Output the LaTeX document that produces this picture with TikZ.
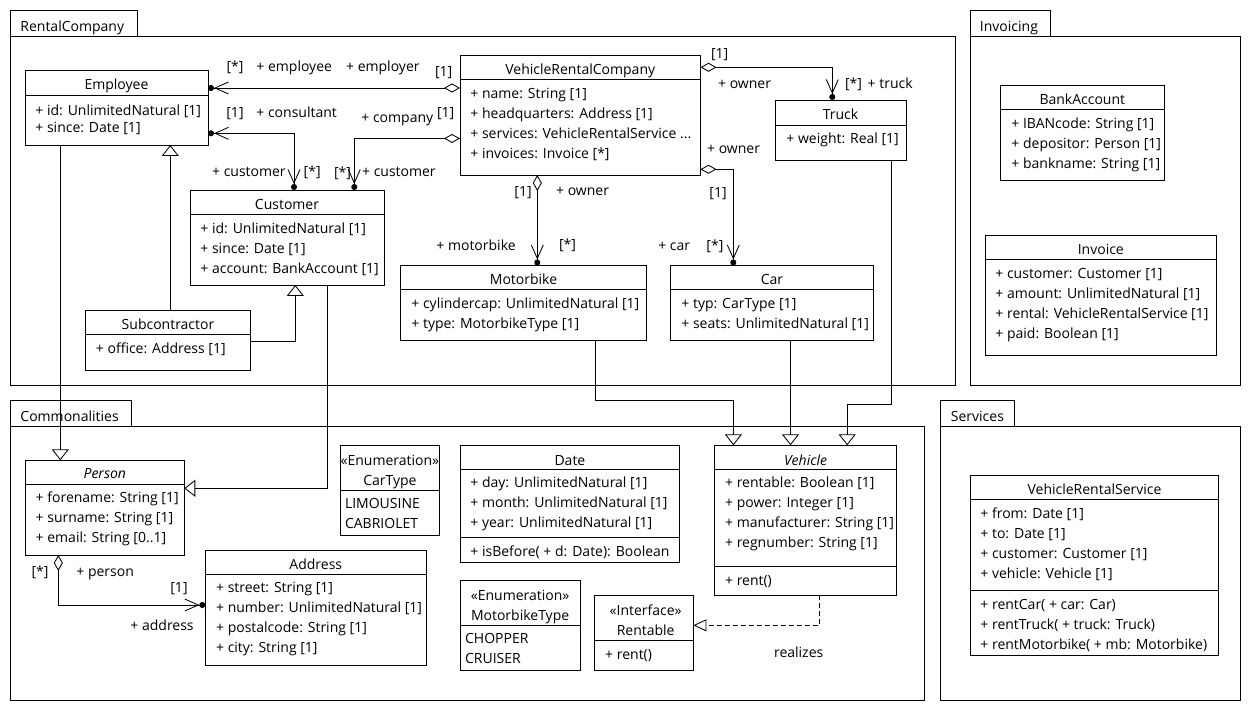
\documentclass[tikz,border=0pt]{standalone}
\usepackage{fontspec}
\setmainfont{Open Sans}
\usetikzlibrary{arrows.meta}
\tikzset{
  clsbox/.style={draw, fill=white, anchor=north west, inner sep=0pt, outer sep=0pt},
  txt/.style={anchor=west, inner sep=0pt, text height=10pt, text depth=0pt},
  ctr/.style={anchor=center, inner sep=0pt, text height=10pt, text depth=0pt},
  assoc/.style={arrows={Diamond[fill=white,length=16pt,width=9pt]-{Straight Barb[length=13.5pt,width=12pt]Circle[length=6pt]}}},
  navnav/.style={arrows={{Circle[length=6pt]Straight Barb[length=13.5pt,width=12pt]}-{Straight Barb[length=13.5pt,width=12pt]Circle[length=6pt]}}},
  gen/.style={arrows={-Triangle[open,length=11pt,width=17pt]}},
  realz/.style={dash pattern=on 5pt off 3pt, arrows={-Triangle[open,length=13pt,width=12pt]}},
}
\newcommand\umlcls[5]{\node[clsbox, minimum width=#4pt, minimum height=#5pt] (#1) at (#2,#3) {};}
\newcommand\umlsep[2]{\draw (#1.west |- 0,#2) -- (#1.east |- 0,#2);}
\begin{document}
\begin{tikzpicture}[x=1pt,y=-1pt,line width=0.85pt,font=\fontsize{14}{16}\selectfont]
\useasboundingbox (0,0) rectangle (1251,711);
% ---------- packages
\draw (10,36) rectangle (955,385);
\draw (10,36) |- (137,10) -- (137,36);
\node[txt] (pk1) at (20,26.5) {RentalCompany};
\draw (970,36) rectangle (1240,385);
\draw (970,36) |- (1050,10) -- (1050,36);
\node[txt] (pk2) at (979.5,26.5) {Invoicing};
\draw (10,426) rectangle (924.5,700);
\draw (10,426) |- (131.5,400) -- (131.5,426);
\node[txt] (pk3) at (20,416) {Commonalities};
\draw (940,426) rectangle (1240,700);
\draw (940,426) |- (1014.5,400) -- (1014.5,426);
\node[txt] (pk4) at (950.5,416) {Services};
% ---------- Employee
\umlcls{emp}{25}{70}{183}{75}\umlsep{emp}{95.5}
\node[ctr] (emp-n) at ([yshift=-15pt]emp.north) {Employee};
\node[txt] (emp-a1) at (35,110.5) {+ id: UnlimitedNatural [1]};
\node[txt] (emp-a2) at (35,127.5) {+ since: Date [1]};
% ---------- Customer
\umlcls{cust}{190}{190}{194}{95}\umlsep{cust}{214}
\node[ctr] (cust-n) at ([yshift=-14.5pt]cust.north) {Customer};
\node[txt] (cust-a1) at (200,229) {+ id: UnlimitedNatural [1]};
\node[txt] (cust-a2) at (200,248.5) {+ since: Date [1]};
\node[txt] (cust-a3) at (200,268.5) {+ account: BankAccount [1]};
% ---------- Subcontractor
\umlcls{sub}{85.5}{310}{165}{60}\umlsep{sub}{334.5}
\node[ctr] (sub-n) at ([yshift=-14.7pt]sub.north) {Subcontractor};
\node[txt] (sub-a1) at (95.5,348.7) {+ office: Address [1]};
% ---------- VehicleRentalCompany
\umlcls{vrc}{460}{55}{240.5}{120}\umlsep{vrc}{79}
\node[ctr] (vrc-n) at ([yshift=-15pt]vrc.north) {VehicleRentalCompany};
\node[txt] (vrc-a1) at (470,93.3) {+ name: String [1]};
\node[txt] (vrc-a2) at (470,113.3) {+ headquarters: Address [1]};
\node[txt] (vrc-a3) at (470,133.3) {+ services: VehicleRentalService ...};
\node[txt] (vrc-a4) at (470,153.3) {+ invoices: Invoice [*]};
% ---------- Truck
\umlcls{truck}{775}{100}{131}{60}\umlsep{truck}{125.3}
\node[ctr] (truck-n) at ([yshift=-14.7pt]truck.north) {Truck};
\node[txt] (truck-a1) at (786,139) {+ weight: Real [1]};
% ---------- Motorbike
\umlcls{moto}{400.5}{265.5}{246}{75}\umlsep{moto}{289}
\node[ctr] (moto-n) at ([yshift=-13.8pt]moto.north) {Motorbike};
\node[txt] (moto-a1) at (411,303.3) {+ cylindercap: UnlimitedNatural [1]};
\node[txt] (moto-a2) at (411,323.3) {+ type: MotorbikeType [1]};
% ---------- Car
\umlcls{car}{670.5}{265.5}{203}{75}\umlsep{car}{289}
\node[ctr] (car-n) at ([yshift=-13.8pt]car.north) {Car};
\node[txt] (car-a1) at (681,303.3) {+ typ: CarType [1]};
\node[txt] (car-a2) at (681,323.3) {+ seats: UnlimitedNatural [1]};
% ---------- BankAccount
\umlcls{bank}{1000.3}{85.3}{164}{95}\umlsep{bank}{109}
\node[ctr] (bank-n) at ([yshift=-14.4pt]bank.north) {BankAccount};
\node[txt] (bank-a1) at (1011,123.7) {+ IBANcode: String [1]};
\node[txt] (bank-a2) at (1011,143.7) {+ depositor: Person [1]};
\node[txt] (bank-a3) at (1011,163.7) {+ bankname: String [1]};
% ---------- Invoice
\umlcls{inv}{985.3}{235.3}{231}{119.7}\umlsep{inv}{259}
\node[ctr] (inv-n) at ([yshift=-14pt]inv.north) {Invoice};
\node[txt] (inv-a1) at (995,274) {+ customer: Customer [1]};
\node[txt] (inv-a2) at (995,294) {+ amount: UnlimitedNatural [1]};
\node[txt] (inv-a3) at (995,314) {+ rental: VehicleRentalService [1]};
\node[txt] (inv-a4) at (995,334) {+ paid: Boolean [1]};
% ---------- VehicleRentalService
\umlcls{vrs}{970.3}{475.3}{248.4}{180}\umlsep{vrs}{499}\umlsep{vrs}{590.3}
\node[ctr] (vrs-n) at ([yshift=-14.4pt]vrs.north) {VehicleRentalService};
\node[txt] (vrs-a1) at (980,513.7) {+ from: Date [1]};
\node[txt] (vrs-a2) at (980,533.7) {+ to: Date [1]};
\node[txt] (vrs-a3) at (980,553.7) {+ customer: Customer [1]};
\node[txt] (vrs-a4) at (980,573.7) {+ vehicle: Vehicle [1]};
\node[txt] (vrs-o1) at (980,604.3) {+ rentCar( + car: Car)};
\node[txt] (vrs-o2) at (980,624.3) {+ rentTruck( + truck: Truck)};
\node[txt] (vrs-o3) at (980,644.3) {+ rentMotorbike( + mb: Motorbike)};
% ---------- Person
\umlcls{person}{25.3}{460.3}{159}{94.7}\umlsep{person}{484.3}
\node[ctr] (person-n) at ([yshift=-13.4pt]person.north) {\itshape Person};
\node[txt] (person-a1) at (35.3,497.7) {+ forename: String [1]};
\node[txt] (person-a2) at (35.3,517.7) {+ surname: String [1]};
\node[txt] (person-a3) at (35.3,537.7) {+ email: String [0..1]};
% ---------- Address
\umlcls{addr}{205.3}{550.3}{221}{115}\umlsep{addr}{574}
\node[ctr] (addr-n) at ([yshift=-14.4pt]addr.north) {Address};
\node[txt] (addr-a1) at (215.7,587.7) {+ street: String [1]};
\node[txt] (addr-a2) at (215.7,607.7) {+ number: UnlimitedNatural [1]};
\node[txt] (addr-a3) at (215.7,627.7) {+ postalcode: String [1]};
\node[txt] (addr-a4) at (215.7,647.7) {+ city: String [1]};
% ---------- CarType
\umlcls{ctype}{340.3}{445.3}{99.2}{90}\umlsep{ctype}{490}
\node[ctr] (ctype-s) at ([yshift=-14.7pt]ctype.north) {«Enumeration»};
\node[ctr] (ctype-n) at ([yshift=-35.4pt]ctype.north) {CarType};
\node[txt] (ctype-l1) at (344.6,503.7) {LIMOUSINE};
\node[txt] (ctype-l2) at (344.6,523.7) {CABRIOLET};
% ---------- Date
\umlcls{date}{460.2}{445.3}{219.4}{117}\umlsep{date}{469.3}\umlsep{date}{537}
\node[ctr] (date-n) at ([yshift=-14.7pt]date.north) {Date};
\node[txt] (date-a1) at (470,482.7) {+ day: UnlimitedNatural [1]};
\node[txt] (date-a2) at (470,502.7) {+ month: UnlimitedNatural [1]};
\node[txt] (date-a3) at (470,522.7) {+ year: UnlimitedNatural [1]};
\node[txt] (date-o1) at (470,551) {+ isBefore( + d: Date): Boolean};
% ---------- Vehicle
\umlcls{veh}{714.4}{445.3}{182.4}{149.7}\umlsep{veh}{469.3}\umlsep{veh}{566.7}
\node[ctr] (veh-n) at ([yshift=-14.7pt]veh.north) {\itshape Vehicle};
\node[txt] (veh-a1) at (724.7,482.7) {+ rentable: Boolean [1]};
\node[txt] (veh-a2) at (724.7,502.7) {+ power: Integer [1]};
\node[txt] (veh-a3) at (724.7,522.7) {+ manufacturer: String [1]};
\node[txt] (veh-a4) at (724.7,542.7) {+ regnumber: String [1]};
\node[txt] (veh-o1) at (724.7,580) {+ rent()};
% ---------- MotorbikeType
\umlcls{mtype}{460.2}{580.3}{119.8}{90}\umlsep{mtype}{625.3}
\node[ctr] (mtype-s) at ([yshift=-14.7pt]mtype.north) {«Enumeration»};
\node[ctr] (mtype-n) at ([yshift=-35.4pt]mtype.north) {MotorbikeType};
\node[txt] (mtype-l1) at (464.7,638.7) {CHOPPER};
\node[txt] (mtype-l2) at (464.7,658.7) {CRUISER};
% ---------- Rentable
\umlcls{rent}{594.9}{595.3}{98.5}{75}\umlsep{rent}{640.3}
\node[ctr] (rent-s) at ([xshift=1.5pt,yshift=-14.7pt]rent.north) {«Interface»};
\node[ctr] (rent-n) at ([xshift=1.5pt,yshift=-35.4pt]rent.north) {Rentable};
\node[txt] (rent-o1) at (604.8,654.3) {+ rent()};
% ---------- associations
\draw[assoc] (vrc.west |- 0,88) -- (emp.east |- 0,88);
\node[ctr] (l1) at (235,67) {[*]};
\node[txt] (l2) at (256,67) {+ employee};
\node[txt] (l3) at (345.7,67) {+ employer};
\node[ctr] (l4) at (443.7,71.3) {[1]};

\draw[navnav] (emp.east |- 0,133.3) -| (cust.north -| 294,0);
\node[ctr] (l5) at (235,112.7) {[1]};
\node[txt] (l6) at (256,112.7) {+ consultant};
\node[txt] (l7) at (211.7,172) {+ customer};
\node[txt] (l8) at (303.3,172) {[*]};

\draw[assoc] (vrc.west |- 0,138.5) -| (cust.north -| 354.3,0);
\node[txt] (l9) at (361,117.3) {+ company};
\node[txt] (l10) at (436.7,112.7) {[1]};
\node[txt] (l11) at (333.7,172.3) {[*]};
\node[txt] (l12) at (361.7,172) {+ customer};

\draw[assoc] (vrc.east |- 0,67.3) -| (truck.north -| 832.3,0);
\node[txt] (l13) at (710.7,53.3) {[1]};
\node[txt] (l14) at (717.7,83.3) {+ owner};
\node[txt] (l15) at (844.7,83.3) {[*]};
\node[txt] (l16) at (867.3,83.3) {+ truck};

\draw[assoc] (vrc.east |- 0,169.3) -| (car.north -| 733.3,0);
\node[txt] (l17) at (706.7,148.3) {+ owner};
\node[txt] (l18) at (709,192.7) {[1]};
\node[txt] (l19) at (657.9,246) {+ car};
\node[txt] (l20) at (706,246) {[*]};

\draw[assoc] (vrc.south -| 537.3,0) -- (moto.north -| 537.3,0);
\node[txt] (l21) at (514,191.7) {[1]};
\node[txt] (l22) at (555.7,190.7) {+ owner};
\node[txt] (l23) at (436,245.3) {+ motorbike};
\node[txt] (l24) at (558.6,245) {[*]};

\draw[assoc] (person.south -| 58.3,0) |- (addr.west |- 0,605);
\node[ctr] (l25) at (40,571) {[*]};
\node[txt] (l26) at (76,571) {+ person};
\node[ctr] (l27) at (179,587) {[1]};
\node[txt] (l28) at (130,625) {+ address};
% ---------- generalizations
\draw[gen] (emp.south -| 60.3,0) -- (person.north -| 60.3,0);
\draw[gen] (cust.south -| 327.3,0) |- (person.east |- 0,488.3);
\draw[gen] (sub.north -| 170.3,0) -- (emp.south -| 170.3,0);
\draw[gen] (sub.east |- 0,341.3) -| (cust.south -| 295.3,0);
\draw[gen] (moto.south -| 595.4,0) -- (595.4,400.3) -- (733.4,400.3) -- (veh.north -| 733.4,0);
\draw[gen] (car.south -| 790.5,0) -- (veh.north -| 790.5,0);
\draw[gen] (truck.south -| 891,0) -- (891,404.3) -- (847.2,404.3) -- (veh.north -| 847.2,0);
% ---------- realization
\draw[realz] (veh.south -| 819.3,0) |- (rent.east |- 0,625.3);
\node[ctr] (l29) at (798.7,652) {realizes};
\end{tikzpicture}
\end{document}
